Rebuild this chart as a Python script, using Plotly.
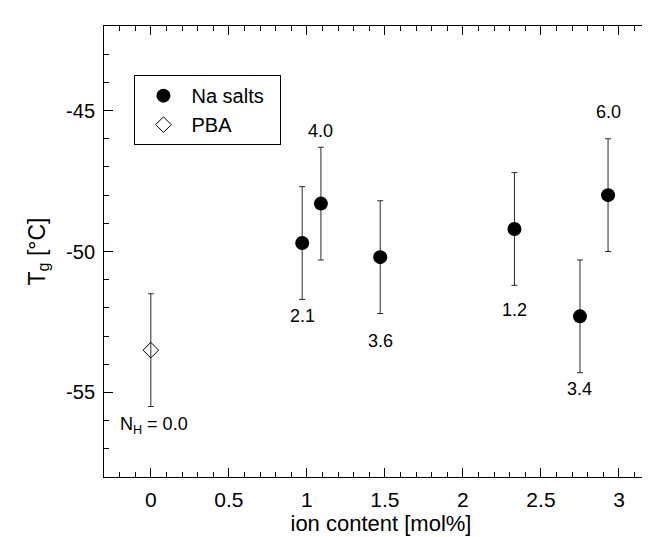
import plotly.graph_objects as go

# ---- data ----
na_x = [0.97, 1.09, 1.47, 2.33, 2.75, 2.93]
na_y = [-49.7, -48.3, -50.2, -49.2, -52.3, -48.0]
na_err = [2.0, 2.0, 2.0, 2.0, 2.0, 2.0]
na_labels = ["2.1", "4.0", "3.6", "1.2", "3.4", "6.0"]

pba_x = [0.0]
pba_y = [-53.5]
pba_err = [2.0]
pba_labels = ["N<sub>H</sub> = 0.0"]

x_tickvals = [0, 0.5, 1, 1.5, 2, 2.5, 3]
x_ticktext = ["0", "0.5", "1", "1.5", "2", "2.5", "3"]
y_tickvals = [-45, -50, -55]
y_ticktext = ["-45", "-50", "-55"]

# ---- style (pixel shifts of labels relative to their points) ----
na_label_shift = [-73, 73, -84, -81, -73, 83]
pba_label_shift = [-75]

FONT = "Liberation Sans, Arial, Helvetica, sans-serif"
NBSP = "\u00a0"

fig = go.Figure()
fig.add_trace(go.Scatter(
    x=na_x, y=na_y, mode="markers", name="Na salts" + NBSP * 2,
    marker=dict(symbol="circle", size=14, color="black"),
    error_y=dict(type="data", array=na_err, visible=True, color="#2a2a2a",
                 thickness=1, width=3),
))
fig.add_trace(go.Scatter(
    x=pba_x, y=pba_y, mode="markers", name="PBA",
    marker=dict(symbol="diamond-open", size=12, color="black",
                line=dict(width=1, color="black")),
    error_y=dict(type="data", array=pba_err, visible=True, color="#2a2a2a",
                 thickness=1, width=3),
))

annotations = []
for x, y, t, s in zip(na_x, na_y, na_labels, na_label_shift):
    annotations.append(dict(x=x, y=y, text=t, showarrow=False, yshift=s,
                            xanchor="center", yanchor="middle",
                            font=dict(size=18, color="black", family=FONT)))
for x, y, t, s in zip(pba_x, pba_y, pba_labels, pba_label_shift):
    annotations.append(dict(x=x, y=y, text=t, showarrow=False, yshift=s, xshift=3,
                            xanchor="center", yanchor="middle",
                            font=dict(size=18, color="black", family=FONT)))

fig.update_layout(
    width=650, height=537,
    margin=dict(l=96, r=0, t=18, b=68),
    paper_bgcolor="white", plot_bgcolor="white",
    font=dict(family=FONT, color="black", size=19),
    showlegend=True,
    legend=dict(x=0.055, y=0.891, xanchor="left", yanchor="top",
                bordercolor="black", borderwidth=1, bgcolor="white",
                font=dict(size=20, family=FONT, color="black"),
                tracegroupgap=0, itemwidth=46),
    annotations=annotations,
    xaxis=dict(
        range=[-0.3, 3.25],
        tickmode="array", tickvals=x_tickvals, ticktext=x_ticktext,
        ticks="inside", ticklen=9, tickwidth=1, tickcolor="black",
        minor=dict(dtick=0.1, ticks="inside", ticklen=5, tickwidth=1, tickcolor="black"),
        showline=True, linecolor="black", linewidth=1, mirror="ticks",
        showgrid=False, zeroline=False,
        tickfont=dict(size=21, family=FONT),
        ticklabelstandoff=4,
        title=dict(text="ion content [mol%]", font=dict(size=22, family=FONT), standoff=2),
    ),
    yaxis=dict(
        range=[-58, -42],
        tickmode="array", tickvals=y_tickvals, ticktext=y_ticktext,
        ticks="inside", ticklen=9, tickwidth=1, tickcolor="black",
        minor=dict(dtick=1, ticks="inside", ticklen=5, tickwidth=1, tickcolor="black"),
        showline=True, linecolor="black", linewidth=1, mirror=False,
        showgrid=False, zeroline=False,
        tickfont=dict(size=20, family=FONT),
        ticklabelstandoff=4,
        title=dict(text="T<sub>g</sub> [°C]", font=dict(size=23, family=FONT), standoff=14),
    ),
)

fig.write_html("out.html")
